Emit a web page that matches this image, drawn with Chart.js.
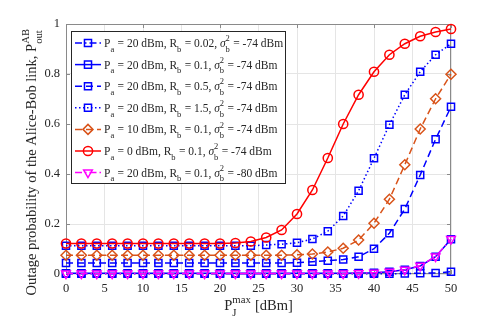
<!DOCTYPE html>
<html>
<head>
<meta charset="utf-8">
<script src="https://cdn.jsdelivr.net/npm/chart.js@4.4.1/dist/chart.umd.min.js"></script>
<style>
    html, body { margin: 0; padding: 0; background: #fff; }
    #wrap { width: 498px; height: 320px; }
</style>
</head>
<body>
<div id="wrap"><canvas id="outage-chart" width="498" height="320"></canvas></div>
<script>
/* Outage probability of the Alice-Bob link vs. jammer power */

// x axis: P_J^max [dBm]
const jammerPower = [0, 2, 4, 6, 8, 10, 12, 14, 16, 18, 20, 22, 24, 26, 28, 30, 32, 34, 36, 38, 40, 42, 44, 46, 48, 50];

// series values
const outRb002 = [0.001, 0.001, 0.001, 0.001, 0.001, 0.001, 0.001, 0.001, 0.001, 0.001, 0.001, 0.001, 0.001, 0.001, 0.001, 0.001, 0.001, 0.001, 0.001, 0.001, 0.001, 0.001, 0.002, 0.003, 0.004, 0.009];
const outRb01 = [0.003, 0.003, 0.003, 0.003, 0.003, 0.003, 0.003, 0.003, 0.003, 0.003, 0.003, 0.003, 0.003, 0.003, 0.003, 0.003, 0.003, 0.003, 0.003, 0.004, 0.005, 0.009, 0.017, 0.032, 0.069, 0.139];
const outRb05 = [0.044, 0.044, 0.044, 0.044, 0.044, 0.044, 0.044, 0.044, 0.044, 0.044, 0.044, 0.044, 0.044, 0.044, 0.044, 0.045, 0.049, 0.053, 0.058, 0.069, 0.101, 0.163, 0.26, 0.396, 0.539, 0.669];
const outRb15 = [0.113, 0.113, 0.113, 0.113, 0.113, 0.113, 0.113, 0.113, 0.113, 0.113, 0.113, 0.113, 0.113, 0.116, 0.119, 0.125, 0.14, 0.171, 0.232, 0.333, 0.463, 0.597, 0.717, 0.809, 0.877, 0.921];
const outPa10 = [0.075, 0.075, 0.075, 0.075, 0.075, 0.075, 0.075, 0.075, 0.075, 0.075, 0.075, 0.075, 0.075, 0.075, 0.075, 0.077, 0.08, 0.088, 0.103, 0.136, 0.203, 0.299, 0.437, 0.58, 0.701, 0.799];
const outPa0 = [0.122, 0.122, 0.122, 0.122, 0.122, 0.122, 0.122, 0.122, 0.122, 0.122, 0.122, 0.124, 0.13, 0.146, 0.176, 0.24, 0.336, 0.464, 0.6, 0.717, 0.809, 0.877, 0.921, 0.951, 0.968, 0.98];
const outSigma80 = [0.002, 0.002, 0.002, 0.002, 0.002, 0.002, 0.002, 0.002, 0.002, 0.002, 0.002, 0.002, 0.002, 0.002, 0.002, 0.002, 0.002, 0.002, 0.002, 0.003, 0.005, 0.009, 0.017, 0.033, 0.07, 0.14];

// legend parameters
const powerA = ['20', '20', '20', '20', '10', '0', '20'];
const rateB = ['0.02', '0.1', '0.5', '1.5', '0.1', '0.1', '0.1'];
const noiseB = ['-74', '-74', '-74', '-74', '-74', '-74', '-80'];

// y ticks and their labels
const yTicks = [0, 0.2, 0.4, 0.6, 0.8, 1];
const yTickLabels = ['0', '0.2', '0.4', '0.6', '0.8', '1'];

const seriesValues = [outRb002, outRb01, outRb05, outRb15, outPa10, outPa0, outSigma80];

const BLUE = 'rgb(0, 0, 255)';
const styles = [
    { color: BLUE, dash: [7, 3, 1.5, 3], marker: 'rect', radius: 5, rot: 0 },
    { color: BLUE, dash: [], marker: 'rect', radius: 5, rot: 0 },
    { color: BLUE, dash: [7, 4], marker: 'rect', radius: 5, rot: 0 },
    { color: BLUE, dash: [1.5, 2.5], marker: 'rect', radius: 5, rot: 0 },
    { color: 'rgb(217, 83, 25)', dash: [7, 4], marker: 'rectRot', radius: 5, rot: 0 },
    { color: 'rgb(255, 0, 0)', dash: [], marker: 'circle', radius: 4.6, rot: 0 },
    { color: 'rgb(255, 0, 255)', dash: [7, 3, 1.5, 3], marker: 'triangle', radius: 5, rot: 180 }
];

const FONT = '"Liberation Serif", "Times New Roman", serif';
const TEXT = '#262626';

// draw text with sub/superscripts, returns width
function drawRich(ctx, parts, x, y, size, measureOnly) {
    let cx = x;
    const small = size * 0.74;
    for (const p of parts) {
        if (p.sub !== undefined || p.sup !== undefined) {
            ctx.font = `${small}px ${FONT}`;
            let w = 0;
            if (p.sub !== undefined) {
                if (!measureOnly) ctx.fillText(p.sub, cx, y + size * 0.42);
                w = ctx.measureText(p.sub).width;
            }
            if (p.sup !== undefined) {
                if (!measureOnly) ctx.fillText(p.sup, cx, y - size * 0.5);
                w = Math.max(w, ctx.measureText(p.sup).width);
            }
            cx += w + 0.5;
        } else {
            ctx.font = `${p.italic ? 'italic ' : ''}${size}px ${FONT}`;
            if (!measureOnly) ctx.fillText(p.t, cx, y);
            cx += ctx.measureText(p.t).width;
        }
    }
    return cx - x;
}

function legendParts(i) {
    return [
        { t: 'P' }, { sub: 'a' }, { t: ` = ${powerA[i]} dBm, R` }, { sub: 'b' },
        { t: ` = ${rateB[i]}, ` }, { t: 'σ', italic: true }, { sub: 'b', sup: '2' },
        { t: ` = ${noiseB[i]} dBm` }
    ];
}

const framePlugin = {
    id: 'frame',
    beforeDatasetsDraw(chart) {
        const { ctx, chartArea: a, scales } = chart;
        ctx.save();
        ctx.strokeStyle = '#8a8a8a';
        ctx.lineWidth = 1;
        ctx.strokeRect(a.left + 0.5, a.top + 0.5, a.right - a.left - 1, a.bottom - a.top - 1);
        ctx.beginPath();
        const tl = 4;
        jammerPower.filter(v => v % 5 === 0).forEach(v => {
            const px = Math.round(scales.x.getPixelForValue(v)) + 0.5;
            ctx.moveTo(px, a.bottom); ctx.lineTo(px, a.bottom - tl);
            ctx.moveTo(px, a.top); ctx.lineTo(px, a.top + tl);
        });
        yTicks.forEach(v => {
            const py = Math.round(scales.y.getPixelForValue(v)) + 0.5;
            ctx.moveTo(a.left, py); ctx.lineTo(a.left + tl, py);
            ctx.moveTo(a.right, py); ctx.lineTo(a.right - tl, py);
        });
        ctx.stroke();
        ctx.restore();
    },
    afterDraw(chart) {
        const { ctx, chartArea: a } = chart;
        ctx.save();
        ctx.fillStyle = TEXT;
        ctx.textBaseline = 'alphabetic';

        // legend box
        const bx = 71, by = 31, bw = 214, bh = 152, rowH = 21.6;
        ctx.fillStyle = '#fff';
        ctx.fillRect(bx, by, bw, bh);
        ctx.strokeStyle = '#262626';
        ctx.lineWidth = 1;
        ctx.strokeRect(bx + 0.5, by + 0.5, bw, bh);
        chart.data.datasets.forEach((ds, i) => {
            const st = styles[i];
            const cy = 43 + i * rowH;
            ctx.strokeStyle = st.color;
            ctx.lineWidth = 1.5;
            ctx.setLineDash(st.dash);
            ctx.beginPath();
            ctx.moveTo(75, cy); ctx.lineTo(101, cy);
            ctx.stroke();
            ctx.setLineDash([]);
            ctx.fillStyle = 'rgba(0,0,0,0)';
            Chart.helpers.drawPoint(ctx, {
                pointStyle: st.marker, rotation: st.rot, radius: st.radius, borderWidth: 1.5
            }, 88, cy);
            ctx.fillStyle = TEXT;
            drawRich(ctx, legendParts(i), 104, cy + 4, 11.5);
        });

        // x axis title
        const xParts = [{ t: 'P' }, { sub: 'J', sup: 'max' }, { t: ' [dBm]' }];
        const xw = drawRich(ctx, xParts, 0, 0, 14.5, true);
        drawRich(ctx, xParts, (a.left + a.right) / 2 - xw / 2, 310, 14.5);

        // y axis title (rotated)
        const yParts = [{ t: 'Outage probability of the Alice-Bob link, P' }, { sub: 'out', sup: 'AB' }];
        const yw = drawRich(ctx, yParts, 0, 0, 14.5, true);
        ctx.translate(36, 162);
        ctx.rotate(-Math.PI / 2);
        drawRich(ctx, yParts, -yw / 2, 0, 14.5);
        ctx.restore();
    }
};

const datasets = seriesValues.map((vals, i) => ({
    label: `P_a = ${powerA[i]} dBm, R_b = ${rateB[i]}, sigma_b^2 = ${noiseB[i]} dBm`,
    data: jammerPower.map((x, k) => ({ x, y: vals[k] })),
    borderColor: styles[i].color,
    borderWidth: 1.5,
    borderDash: styles[i].dash,
    pointStyle: styles[i].marker,
    pointRotation: styles[i].rot,
    pointRadius: styles[i].radius,
    pointBorderWidth: 1.5,
    pointBorderColor: styles[i].color,
    pointBackgroundColor: 'rgba(0,0,0,0)',
    fill: false,
    tension: 0,
    clip: false,
    order: seriesValues.length - i
}));

const tickFont = { family: FONT, size: 12.5 };

new Chart(document.getElementById('outage-chart').getContext('2d'), {
    type: 'line',
    data: { datasets },
    plugins: [framePlugin],
    options: {
        responsive: false,
        devicePixelRatio: 1,
        animation: false,
        layout: { padding: { left: 0, top: 24, right: 47, bottom: 0 } },
        plugins: { legend: { display: false }, tooltip: { enabled: false } },
        scales: {
            x: {
                type: 'linear',
                min: 0, max: 50,
                afterFit: s => { s.height = 46; },
                border: { display: false },
                grid: { color: '#e5e5e5', drawTicks: false },
                ticks: { stepSize: 5, font: tickFont, color: TEXT, padding: 7, maxRotation: 0 }
            },
            y: {
                min: 0, max: 1,
                afterFit: s => { s.width = 66; },
                afterBuildTicks: s => { s.ticks = yTicks.map(v => ({ value: v })); },
                border: { display: false },
                grid: { color: '#e5e5e5', drawTicks: false },
                ticks: {
                    font: tickFont, color: TEXT, padding: 6,
                    callback: v => yTickLabels[yTicks.indexOf(v)]
                }
            }
        }
    }
});
</script>
</body>
</html>
